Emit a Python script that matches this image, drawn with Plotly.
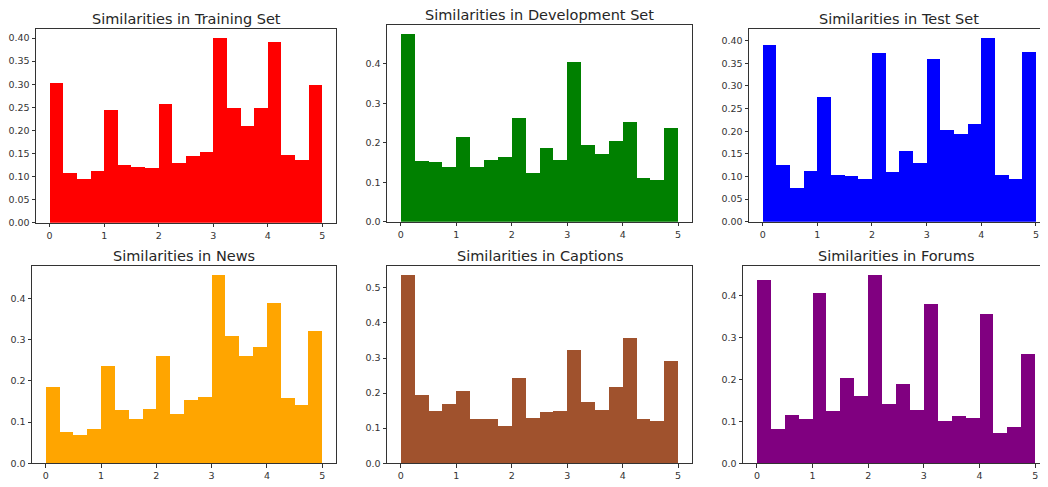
import numpy as np
import plotly.graph_objects as go

# ---- data (density histograms, 20 bins over 0..5) ----
bin_edges = np.linspace(0, 5, 21)
bin_width = bin_edges[1] - bin_edges[0]
bin_centers = (bin_edges[:-1] + bin_edges[1:]) / 2

titles = ["Similarities in Training Set", "Similarities in Development Set", "Similarities in Test Set",
          "Similarities in News", "Similarities in Captions", "Similarities in Forums"]

training = [0.304, 0.108, 0.096, 0.112, 0.245, 0.125, 0.122, 0.119, 0.257, 0.130,
            0.145, 0.153, 0.400, 0.248, 0.209, 0.248, 0.392, 0.148, 0.137, 0.299]
development = [0.475, 0.155, 0.153, 0.138, 0.216, 0.140, 0.158, 0.165, 0.264, 0.124,
               0.188, 0.156, 0.406, 0.195, 0.172, 0.204, 0.252, 0.112, 0.106, 0.238]
test = [0.392, 0.125, 0.076, 0.113, 0.277, 0.104, 0.102, 0.094, 0.373, 0.110,
        0.157, 0.131, 0.361, 0.204, 0.194, 0.216, 0.406, 0.104, 0.096, 0.375]
news = [0.185, 0.075, 0.069, 0.082, 0.236, 0.128, 0.108, 0.130, 0.260, 0.120,
        0.154, 0.161, 0.456, 0.308, 0.260, 0.282, 0.388, 0.159, 0.141, 0.321]
captions = [0.535, 0.194, 0.147, 0.168, 0.204, 0.124, 0.124, 0.106, 0.241, 0.128,
            0.144, 0.147, 0.323, 0.173, 0.152, 0.217, 0.357, 0.126, 0.119, 0.290]
forums = [0.438, 0.082, 0.115, 0.104, 0.407, 0.123, 0.202, 0.160, 0.448, 0.141,
          0.189, 0.126, 0.379, 0.100, 0.113, 0.108, 0.355, 0.072, 0.087, 0.260]

series = [training, development, test, news, captions, forums]
colors = ["#FF0000", "#008000", "#0000FF", "#FFA500", "#A0522D", "#800080"]
y_dtick = [0.05, 0.1, 0.05, 0.1, 0.1, 0.1]
y_fmt = [".2f", ".1f", ".2f", ".1f", ".1f", ".1f"]
x_ticks = [0, 1, 2, 3, 4, 5]

# ---- layout geometry (page pixels; the page body adds an 8px offset) ----
OFF = 8
W, H = 1048 - OFF, 487 - OFF
# (left, right, top, bottom, x_max_visible, clipped_right)
boxes = [(36, 336, 29, 225, 5.25, False), (387, 692, 25, 224, 5.25, False),
         (749, 1048, 29, 224, 5.22, True),
         (32, 336, 269, 468, 5.25, False), (387, 692, 269, 468, 5.25, False),
         (743, 1048, 269, 468, 5.23, True)]

fig = go.Figure()
layout = dict(width=W, height=H, margin=dict(l=0, r=0, t=0, b=0, pad=0), autosize=False,
              paper_bgcolor="white", plot_bgcolor="white", showlegend=False,
              bargap=0, font=dict(family="DejaVu Sans", color="#333333"))
annotations = []
tick_font = dict(size=9.5, color="#333333", family="DejaVu Sans")
for i, (vals, col) in enumerate(zip(series, colors)):
    k = "" if i == 0 else str(i + 1)
    fig.add_trace(go.Bar(x=bin_centers, y=vals, width=bin_width, marker=dict(color=col, line=dict(width=0)),
                         xaxis="x" + k, yaxis="y" + k))
    x0, x1, y0, y1, xmax, clipped = boxes[i]
    x0, x1, y0, y1 = x0 - OFF, x1 - OFF, y0 - OFF, y1 - OFF
    ymax = max(vals) * 1.05
    layout["xaxis" + k] = dict(domain=[x0 / W, min(x1 / W, 1.0)], anchor="y" + k, range=[-0.25, xmax],
                               tickmode="array", tickvals=x_ticks, ticktext=[str(t) for t in x_ticks],
                               showgrid=False, zeroline=False, showline=True, mirror=True,
                               linecolor="#333333", linewidth=1, ticks="outside", ticklen=3.5,
                               tickcolor="#333333", tickfont=tick_font)
    layout["yaxis" + k] = dict(domain=[1 - y1 / H, 1 - y0 / H], anchor="x" + k, range=[0, ymax],
                               dtick=y_dtick[i], tick0=0, tickformat=y_fmt[i],
                               showgrid=False, zeroline=False, showline=True, mirror=not clipped,
                               linecolor="#333333", linewidth=1, ticks="outside", ticklen=3.5,
                               tickcolor="#333333", tickfont=tick_font)
    cx = ((x0 + x1) / 2) if not clipped else (x0 + (5.0 / 2 + 0.25) * (x1 - x0) / (xmax + 0.25))
    annotations.append(dict(text=titles[i], xref="paper", yref="paper",
                            x=cx / W, y=1 - (y0 - 10) / H, xanchor="center", yanchor="middle",
                            borderpad=0, showarrow=False,
                            font=dict(size=14.5, color="#262626", family="DejaVu Sans")))
layout["annotations"] = annotations
fig.update_layout(**layout)
fig.write_html("out.html")
